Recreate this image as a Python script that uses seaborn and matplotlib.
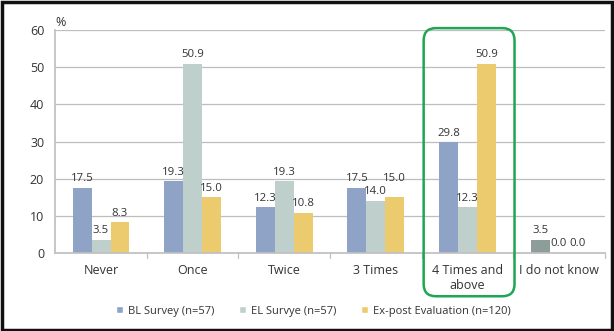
import matplotlib
matplotlib.use("Agg")
import matplotlib.pyplot as plt
from matplotlib.patches import FancyBboxPatch, Rectangle
import seaborn as sns
import pandas as pd

categories = ["Never", "Once", "Twice", "3 Times", "4 Times and\nabove", "I do not know"]
series = ["BL Survey (n=57)", "EL Survye (n=57)", "Ex-post Evaluation (n=120)"]
bl_values = [17.5, 19.3, 12.3, 17.5, 29.8, 3.5]
el_values = [3.5, 50.9, 19.3, 14.0, 12.3, 0.0]
ex_values = [8.3, 15.0, 10.8, 15.0, 50.9, 0.0]

colors = ["#8fa3c6", "#bfd0cc", "#ecca6e"]

rows = []
for s, vals in zip(series, [bl_values, el_values, ex_values]):
    for c, v in zip(categories, vals):
        rows.append({"category": c, "series": s, "value": v})
df = pd.DataFrame(rows)

sns.set_theme(style="white")
plt.rcParams["font.family"] = ["Open Sans", "DejaVu Sans"]

fig = plt.figure(figsize=(6.14, 3.31), dpi=100)
ax = fig.add_axes([0.09, 0.235, 0.895, 0.675])

sns.barplot(data=df, x="category", y="value", hue="series", palette=colors,
            order=categories, hue_order=series, width=0.62, ax=ax,
            saturation=1, legend=True)

# The "I do not know" baseline bar is shown in a darker slate tone
for p in ax.containers[0].patches[-1:]:
    p.set_facecolor("#8e9c9a")

for si, cont in enumerate(ax.containers):
    for ci, p in enumerate(cont.patches):
        p.set_edgecolor("none")
        h = p.get_height()
        xc = p.get_x() + p.get_width() / 2
        ylab = h + 1.0
        # crowded "3 Times" group: lift the last label to the first one's level
        if ci == 3 and si == 2:
            ylab = max(bl_values[3], h) + 1.0
        ax.text(xc, ylab, f"{h:.1f}",
                ha="center", va="bottom", fontsize=8.2, color="#333333")

ax.set_ylim(0, 60)
ax.set_xlim(-0.5, 5.5)
ax.set_yticks(range(0, 61, 10))
ax.tick_params(axis="y", labelsize=9, colors="#333333", length=0, pad=8)
ax.tick_params(axis="x", labelsize=9, colors="#333333", length=0, pad=8)
ax.set_xlabel("")
ax.set_ylabel("")
ax.yaxis.grid(True, color="#bdbdbd", linewidth=0.9)
ax.set_axisbelow(True)
for side in ["top", "right"]:
    ax.spines[side].set_visible(False)
ax.spines["left"].set_color("#c0c0c0")
ax.spines["bottom"].set_color("#c0c0c0")

# category separator ticks on the x axis
for xpos in [0.5, 1.5, 2.5, 3.5, 4.5, 5.5]:
    ax.plot([xpos, xpos], [0, -1.2], color="#c0c0c0", lw=0.9, clip_on=False)

ax.text(-0.5, 60.3, "%", fontsize=9, color="#333333", ha="left", va="bottom")

leg = ax.legend(loc="upper center", bbox_to_anchor=(0.47, -0.19), ncol=3,
                frameon=False, fontsize=8, handlelength=0.6, handleheight=0.6,
                columnspacing=2.2, handletextpad=0.5)
for t in leg.get_texts():
    t.set_color("#333333")

# highlight box around the "4 Times and above" group
box = FancyBboxPatch((0.69, 0.105), 0.148, 0.81, boxstyle="round,pad=0,rounding_size=0.02",
                     transform=fig.transFigure, fill=False, edgecolor="#1fa652",
                     linewidth=1.8, mutation_aspect=614 / 331)
fig.patches.append(box)

# outer frame
fig.patches.append(Rectangle((0.003, 0.003), 0.994, 0.99, transform=fig.transFigure,
                             fill=False, edgecolor="#111111", linewidth=2.5))

fig.savefig("out.png", dpi=100)
